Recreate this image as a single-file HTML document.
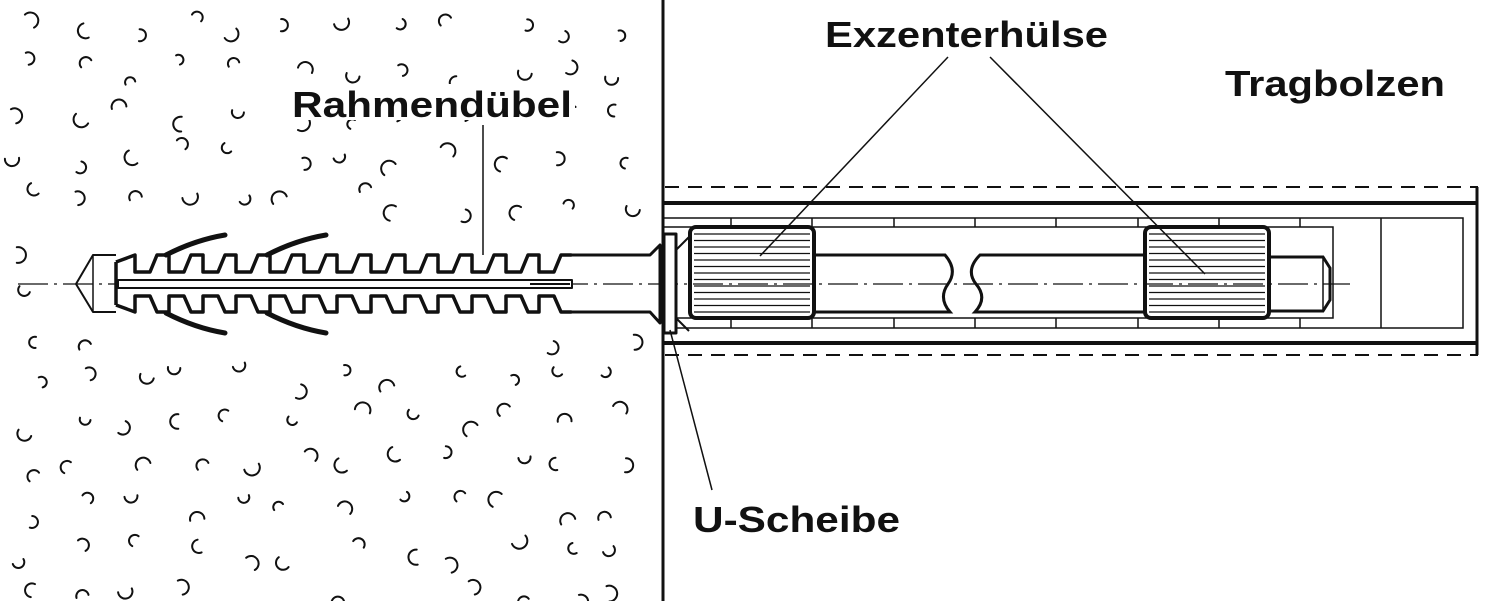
<!DOCTYPE html>
<html><head><meta charset="utf-8"><style>
html,body{margin:0;padding:0;background:#fff}
svg{display:block}
text{font-family:"Liberation Sans",sans-serif;font-weight:bold;font-size:36px;fill:#111}
</style></head><body>
<svg id="s" width="1488" height="601" viewBox="0 0 1488 601" xmlns="http://www.w3.org/2000/svg">
<g id="specks" fill="none" stroke="#111" stroke-width="2" stroke-linecap="round"></g>
<rect x="44" y="250" width="625" height="68" fill="#fff"/>
<line x1="663" y1="0" x2="663" y2="601" stroke="#111" stroke-width="3"/>
<g stroke="#111" fill="none">
<line x1="665" y1="187" x2="1478" y2="187" stroke-width="2" stroke-dasharray="14,9"/>
<line x1="665" y1="355" x2="1478" y2="355" stroke-width="2" stroke-dasharray="14,9"/>
<line x1="663" y1="203" x2="1478" y2="203" stroke-width="4"/>
<line x1="663" y1="343" x2="1478" y2="343" stroke-width="4"/>
<line x1="1477" y1="187" x2="1477" y2="355" stroke-width="3"/>
<rect x="663" y="218" width="800" height="110" stroke-width="1.5"/>
<line x1="1381" y1="218" x2="1381" y2="328" stroke-width="1.5"/>
<rect x="663" y="227" width="670" height="91" stroke-width="1.5"/>
<g stroke-width="1.5">
<line x1="731" y1="218" x2="731" y2="227"/><line x1="731" y1="318" x2="731" y2="328"/>
<line x1="812" y1="218" x2="812" y2="227"/><line x1="812" y1="318" x2="812" y2="328"/>
<line x1="894" y1="218" x2="894" y2="227"/><line x1="894" y1="318" x2="894" y2="328"/>
<line x1="975" y1="218" x2="975" y2="227"/><line x1="975" y1="318" x2="975" y2="328"/>
<line x1="1056" y1="218" x2="1056" y2="227"/><line x1="1056" y1="318" x2="1056" y2="328"/>
<line x1="1138" y1="218" x2="1138" y2="227"/><line x1="1138" y1="318" x2="1138" y2="328"/>
<line x1="1219" y1="218" x2="1219" y2="227"/><line x1="1219" y1="318" x2="1219" y2="328"/>
<line x1="1300" y1="218" x2="1300" y2="227"/><line x1="1300" y1="318" x2="1300" y2="328"/>
</g>
<path d="M814 255 H945 Q958 270 948 284 Q938 298 950 312 H814" stroke-width="3" fill="#fff"/>
<path d="M1145 255 H980 Q965 270 976 284 Q988 298 975 312 H1145" stroke-width="3" fill="#fff"/>
<path d="M1268 257 H1323 L1330 268 V300 L1323 311 H1268" stroke-width="3" fill="#fff"/>
<line x1="1323" y1="257" x2="1323" y2="311" stroke-width="1.5"/>
<path d="M676 250 L689 237 M676 318 L689 331" stroke-width="2"/>
<rect x="690" y="227" width="124" height="91" rx="6" stroke-width="4" fill="#fff"/>
<rect x="1145" y="227" width="124" height="91" rx="6" stroke-width="4" fill="#fff"/>
</g>
<g id="knurl" stroke="#111" stroke-width="1.2"></g>
<line x1="18" y1="284" x2="1350" y2="284" stroke="#111" stroke-width="1.2" stroke-dasharray="30,6,3,6"/>
<g stroke="#111" fill="none" stroke-linejoin="round">
<path d="M76 284 L93 255 H116 M76 284 L93 312 H116" stroke-width="2"/>
<line x1="93" y1="255" x2="93" y2="312" stroke-width="1.5"/>
<path id="teeth" stroke-width="3.5"></path>
<path d="M116 262 V305" stroke-width="3.5"/>
<rect x="118" y="280" width="454" height="8" stroke-width="2" fill="#fff"/>
<line x1="530" y1="284" x2="570" y2="284" stroke-width="2"/>
<path d="M560 255 H650 L660 245 V323 L650 312 H560" stroke-width="3"/>
<rect x="664" y="234" width="12" height="99" stroke-width="3" fill="#fff"/>
<g stroke-width="5" stroke-linecap="round">
<path d="M166 255 Q195 240 225 235"/><path d="M267 255 Q296 240 326 235"/>
<path d="M166 313 Q195 328 225 333"/><path d="M267 313 Q296 328 326 333"/>
</g>
</g>
<g stroke="#111" stroke-width="1.5">
<line x1="483" y1="125" x2="483" y2="255"/>
<line x1="948" y1="57" x2="760" y2="256"/>
<line x1="990" y1="57" x2="1205" y2="274"/>
<line x1="712" y1="490" x2="670" y2="330"/>
</g>
<rect x="290" y="84" width="285" height="36" fill="#fff"/>
<text x="292" y="117" textLength="280" lengthAdjust="spacingAndGlyphs">Rahmendübel</text>
<text x="825" y="47" textLength="283" lengthAdjust="spacingAndGlyphs">Exzenterhülse</text>
<text x="1225" y="96" textLength="220" lengthAdjust="spacingAndGlyphs">Tragbolzen</text>
<text x="693" y="532" textLength="207" lengthAdjust="spacingAndGlyphs">U-Scheibe</text>
</svg>
<script>
(function(){
var NS="http://www.w3.org/2000/svg";
var d="M116 262 L135 255";var b="M116 305 L135 312";
var xs=[145,179,213,246,280,314,347,381,415,448,482,516,549];
for(var i=0;i<xs.length;i++){var x=xs[i];
d+=" L"+(x-10)+" 255 V272 H"+(x+5)+" L"+(x+12)+" 255 H"+(x+22);
b+=" L"+(x-10)+" 312 V296 H"+(x+5)+" L"+(x+12)+" 312 H"+(x+22);}
d+=" H565";b+=" H565";
document.getElementById("teeth").setAttribute("d",d+" "+b);
var k=document.getElementById("knurl");
[[690,814],[1145,1269]].forEach(function(p){for(var y=234;y<316;y+=6.5){var l=document.createElementNS(NS,"line");
l.setAttribute("x1",p[0]+4);l.setAttribute("x2",p[1]-4);l.setAttribute("y1",y);l.setAttribute("y2",y);k.appendChild(l);}});
var g=document.getElementById("specks");var s=12345;function r(){s=(s*1103515245+12345)%2147483648;return s/2147483648;}
for(var y=12;y<595;y+=44){for(var x=8;x<640;x+=54){
var px=x+r()*34,py=y+r()*28;if(py>228&&py<342&&px>40)continue;
var a=r()*6.28,rad=5+r()*3;var x1=px+rad*Math.cos(a),y1=py+rad*Math.sin(a),x2=px+rad*Math.cos(a+3.4),y2=py+rad*Math.sin(a+3.4);
var p=document.createElementNS(NS,"path");p.setAttribute("d","M"+x1.toFixed(1)+" "+y1.toFixed(1)+" A"+rad.toFixed(1)+" "+rad.toFixed(1)+" 0 1 1 "+x2.toFixed(1)+" "+y2.toFixed(1));g.appendChild(p);}}
})();
</script>
</body></html>
